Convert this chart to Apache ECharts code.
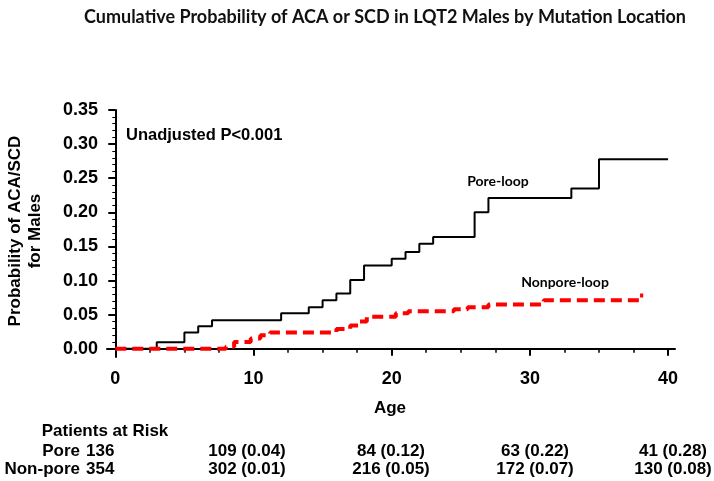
<!DOCTYPE html>
<html>
<head>
<meta charset="utf-8">
<script src="https://cdn.jsdelivr.net/npm/echarts@6/dist/echarts.min.js"></script>
<style>
html,body{margin:0;padding:0;background:#fff;}
#main{width:714px;height:481px;}
</style>
</head>
<body>
<div id="main"></div>
<script>
// ---- data ----
const chartTitle = 'Cumulative Probability of ACA or SCD in LQT2 Males by Mutation Location';
const xTicks = [0, 10, 20, 30, 40];
const xMinorTicks = [2.5, 5, 7.5, 12.5, 15, 17.5, 22.5, 25, 27.5, 32.5, 35, 37.5];
const yTicks = [0, 0.05, 0.10, 0.15, 0.20, 0.25, 0.30, 0.35];
const yMinorTicks = [0.01,0.02,0.03,0.04,0.06,0.07,0.08,0.09,0.11,0.12,0.13,0.14,0.16,0.17,0.18,0.19,0.21,0.22,0.23,0.24,0.26,0.27,0.28,0.29,0.31,0.32,0.33,0.34];

const poreAges = [0, 3, 5, 6, 7, 12, 14, 15, 16, 17, 18, 20, 21, 22, 23, 26, 27, 33, 35, 40];
const poreProb = [0, 0.0098, 0.024, 0.033, 0.042, 0.052, 0.061, 0.071, 0.081, 0.101, 0.122, 0.132, 0.142, 0.154, 0.164, 0.200, 0.221, 0.235, 0.278, 0.278];

const nonporeAges = [0, 8, 8.6, 9.8, 10.5, 11.2, 16, 17, 17.6, 18.2, 20.3, 21.2, 24.5, 25.5, 27, 31, 37.9, 38.2];
const nonporeProb = [0, 0.003, 0.010, 0.015, 0.020, 0.024, 0.029, 0.034, 0.040, 0.047, 0.052, 0.055, 0.058, 0.061, 0.065, 0.071, 0.078, 0.078];

const seriesNames = ['Pore-loop', 'Nonpore-loop'];
const pValueText = 'Unadjusted P<0.001';

const riskHeader = 'Patients at Risk';
const riskGroups = ['Pore', 'Non-pore'];
const riskStart = [136, 354];
const poreAtRisk = [109, 84, 63, 41];
const poreCum = ['0.04', '0.12', '0.22', '0.28'];
const nonporeAtRisk = [302, 216, 172, 130];
const nonporeCum = ['0.01', '0.05', '0.07', '0.08'];

// ---- layout ----
const riskColX = [247, 391, 535, 673];
const riskRowY = [451, 469];
const tableFont = "'Liberation Sans', Arial, sans-serif";
const mainFont = "'Liberation Sans', Arial, sans-serif";
const calFont = "Lato, 'Open Sans', sans-serif";

const chart = echarts.init(document.getElementById('main'), null, {renderer: 'canvas'});

const pair = (xs, ys) => xs.map((x, i) => [x, ys[i]]);

const graphics = [];
graphics.push({type: 'text', x: 385, y: 17, style: {text: chartTitle, font: "bold 18px " + calFont, fill: '#111', align: 'center', verticalAlign: 'middle'}});
graphics.push({type: 'text', x: 126, y: 135, style: {text: pValueText, font: "bold 16.5px " + mainFont, fill: '#000', align: 'left', verticalAlign: 'middle'}});
graphics.push({type: 'text', x: 498, y: 181, style: {text: seriesNames[0], font: "bold 14px " + calFont, fill: '#000', align: 'center', verticalAlign: 'middle'}});
graphics.push({type: 'text', x: 565, y: 282, style: {text: seriesNames[1], font: "bold 14px " + calFont, fill: '#000', align: 'center', verticalAlign: 'middle'}});
graphics.push({type: 'text', x: 25, y: 231, rotation: Math.PI / 2, style: {text: 'Probability of ACA/SCD\nfor Males', font: "bold 17px " + mainFont, fill: '#000', align: 'center', verticalAlign: 'middle', lineHeight: 20}});
graphics.push({type: 'text', x: 390, y: 408, style: {text: 'Age', font: "bold 17px " + mainFont, fill: '#000', align: 'center', verticalAlign: 'middle'}});

// risk table
graphics.push({type: 'text', x: 105, y: 431, style: {text: riskHeader, font: "bold 17px " + tableFont, fill: '#000', align: 'center', verticalAlign: 'middle'}});
const rowsAtRisk = [poreAtRisk, nonporeAtRisk];
const rowsCum = [poreCum, nonporeCum];
riskGroups.forEach((g, r) => {
  graphics.push({type: 'text', x: 80, y: riskRowY[r], style: {text: g, font: "bold 17px " + tableFont, fill: '#000', align: 'right', verticalAlign: 'middle'}});
  graphics.push({type: 'text', x: 86, y: riskRowY[r], style: {text: String(riskStart[r]), font: "bold 17px " + tableFont, fill: '#000', align: 'left', verticalAlign: 'middle'}});
  rowsAtRisk[r].forEach((n, c) => {
    graphics.push({type: 'text', x: riskColX[c], y: riskRowY[r], style: {text: n + ' (' + rowsCum[r][c] + ')', font: "bold 17px " + tableFont, fill: '#000', align: 'center', verticalAlign: 'middle'}});
  });
});

const axisLabelStyle = {color: '#000', fontWeight: 'bold', fontSize: 18, fontFamily: mainFont};

const option = {
  backgroundColor: '#fff',
  animation: false,
  grid: {left: 107, top: 110, width: 568, height: 247, containLabel: false},
  xAxis: [{
    type: 'value', min: -0.6, max: 40.5, position: 'bottom',
    axisLine: {show: true, lineStyle: {color: '#000', width: 2}},
    axisTick: {show: true, customValues: xTicks, length: 7, inside: false, lineStyle: {color: '#000', width: 2}},
    axisLabel: {show: true, customValues: xTicks, margin: 13, ...axisLabelStyle},
    splitLine: {show: false}
  }, {
    type: 'value', min: -0.6, max: 40.5, position: 'bottom',
    axisLine: {show: false},
    axisTick: {show: true, customValues: xMinorTicks, length: 4, lineStyle: {color: '#000', width: 1.5}},
    axisLabel: {show: false},
    splitLine: {show: false}
  }],
  yAxis: [{
    type: 'value', min: -0.012, max: 0.35, position: 'left',
    axisLine: {show: true, lineStyle: {color: '#000', width: 2}},
    axisTick: {show: true, customValues: yTicks, length: 7, lineStyle: {color: '#000', width: 2}},
    axisLabel: {show: true, customValues: yTicks, margin: 9, formatter: v => v.toFixed(2), ...axisLabelStyle},
    splitLine: {show: false}
  }, {
    type: 'value', min: -0.012, max: 0.35, position: 'left',
    axisLine: {show: false},
    axisTick: {show: true, customValues: yMinorTicks, length: 3, lineStyle: {color: '#000', width: 1}},
    axisLabel: {show: false},
    splitLine: {show: false}
  }],
  series: [{
    name: seriesNames[0], type: 'line', step: 'end', xAxisIndex: 0, yAxisIndex: 0,
    data: pair(poreAges, poreProb), showSymbol: false, symbol: 'none',
    lineStyle: {color: '#000', width: 2}, z: 3
  }, {
    name: seriesNames[1], type: 'line', step: 'end', xAxisIndex: 0, yAxisIndex: 0,
    data: pair(nonporeAges, nonporeProb), showSymbol: false, symbol: 'none',
    lineStyle: {color: '#ff0000', width: 4, type: [11, 6], cap: 'butt'}, z: 4
  }],
  graphic: graphics
};
chart.setOption(option);
</script>
</body>
</html>
